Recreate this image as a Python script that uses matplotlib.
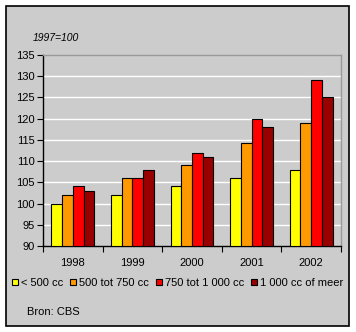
import matplotlib
matplotlib.use("Agg")
import matplotlib.pyplot as plt
import numpy as np
from matplotlib.patches import Rectangle

years = ["1998", "1999", "2000", "2001", "2002"]
series_names = ["< 500 cc", "500 tot 750 cc", "750 tot 1 000 cc", "1 000 cc of meer"]
s_lt500 = [100.0, 101.9, 104.2, 106.1, 108.0]
s_500_750 = [101.9, 106.1, 109.0, 114.2, 119.0]
s_750_1000 = [104.2, 106.1, 111.8, 120.0, 129.0]
s_1000plus = [102.9, 108.0, 110.9, 118.0, 125.0]
series = [s_lt500, s_500_750, s_750_1000, s_1000plus]
colors = ["#FFFF00", "#FF9900", "#FF0000", "#990000"]
yticks = [90, 95, 100, 105, 110, 115, 120, 125, 130, 135]

plt.rcParams['font.family'] = ['Liberation Sans', 'DejaVu Sans']

W, H = 356, 332
fig = plt.figure(figsize=(W / 100, H / 100), dpi=100)
fig.patch.set_facecolor("white")
bg = Rectangle((6 / W, 6 / H), (349 - 6) / W, (326 - 6) / H, transform=fig.transFigure,
               facecolor="#CCCCCC", edgecolor="black", linewidth=1.2, zorder=-10)
fig.patches.append(bg)

ax = fig.add_axes([43 / W, 86 / H, (341 - 43) / W, (246 - 55) / H])
ax.set_facecolor("#CCCCCC")

x = np.arange(len(years))
bw = 0.18
for i, (vals, c, name) in enumerate(zip(series, colors, series_names)):
    ax.bar(x + (i - 1.5) * bw, np.array(vals) - 90, bottom=90, width=bw, color=c,
           edgecolor="black", linewidth=0.8, label=name, zorder=3)

ax.set_ylim(90, 135)
ax.set_xlim(-0.5, 4.5)
ax.set_yticks(yticks)
ax.set_yticklabels([str(t) for t in yticks], fontsize=8)
for t in yticks[1:-1]:
    ax.axhline(t, color="white", linewidth=1.0, zorder=1)

ax.set_xticks(np.arange(-0.5, 5, 1.0))
ax.set_xticklabels([])
ax.set_xticks(x, minor=True)
ax.set_xticklabels(years, minor=True, fontsize=8)
ax.tick_params(axis="x", which="minor", length=0, pad=9)
ax.tick_params(axis="x", which="major", length=4, width=0.8, direction="out")
ax.tick_params(axis="y", length=4, width=0.8, direction="out", pad=2)

ax.spines["left"].set_color("black")
ax.spines["bottom"].set_color("black")
ax.spines["top"].set_color("#999999")
ax.spines["right"].set_color("#999999")
for s in ax.spines.values():
    s.set_linewidth(1.0)

fig.text(33 / W, 1 - 38 / H, "1997=100", fontsize=7.5, style="italic", va="center", ha="left")
fig.text(27 / W, 1 - 312 / H, "Bron: CBS", fontsize=8, va="center", ha="left")

handles, labels = ax.get_legend_handles_labels()
leg = fig.legend(handles, labels, loc="center left", bbox_to_anchor=(12 / W, 1 - 283 / H),
                 ncol=4, frameon=False, fontsize=8, handlelength=0.55, handleheight=0.55,
                 handletextpad=0.25, columnspacing=0.62, borderaxespad=0, borderpad=0)

fig.savefig("out.png", dpi=100, facecolor="white")
